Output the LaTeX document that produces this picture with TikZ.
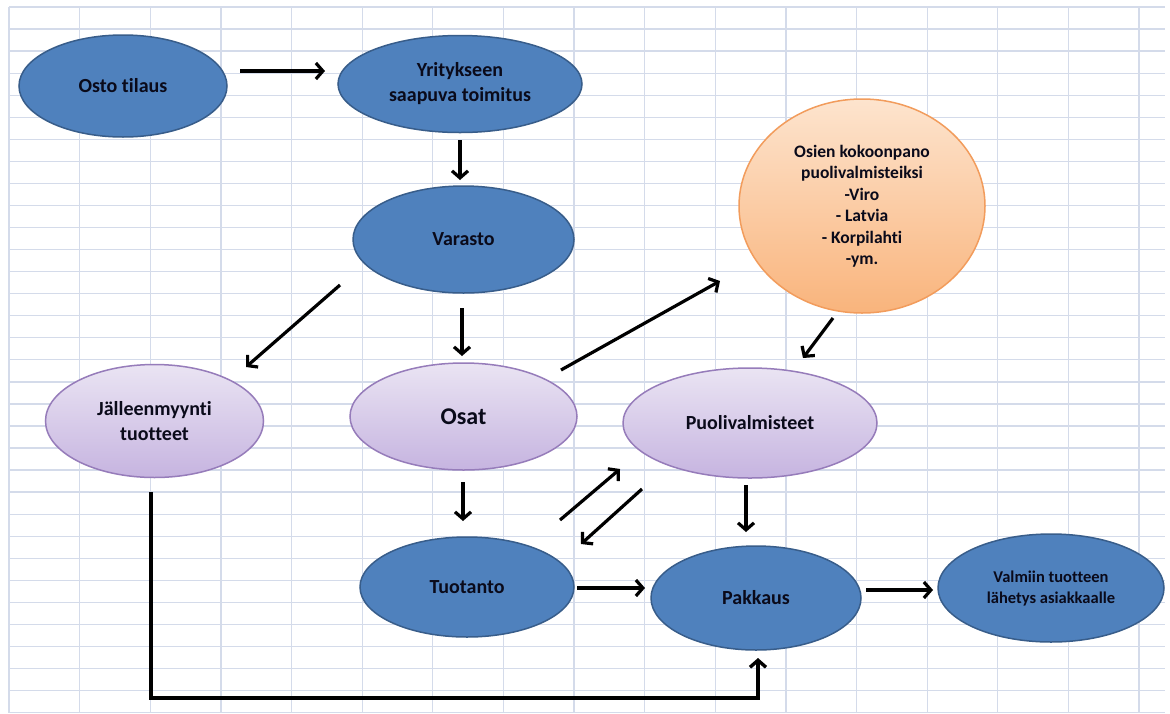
\documentclass[tikz,border=0pt]{standalone}
\usepackage{fontspec}
\setmainfont{Carlito}[Ligatures={NoCommon}]
\usetikzlibrary{shapes.geometric,arrows.meta,calc}

\definecolor{gridc}{RGB}{212,219,234}
\definecolor{bluefill}{RGB}{79,129,189}
\definecolor{blueline}{RGB}{56,93,138}
\definecolor{lavtop}{RGB}{234,228,243}
\definecolor{lavbot}{RGB}{198,180,224}
\definecolor{lavline}{RGB}{150,124,186}
\definecolor{peachtop}{RGB}{253,228,206}
\definecolor{peachbot}{RGB}{249,180,124}
\definecolor{peachline}{RGB}{242,156,92}
\definecolor{inkc}{RGB}{10,10,26}

\tikzset{
  sheetline/.style={draw=gridc, line width=1.3pt},
  oval/.style={ellipse, inner sep=0pt, line width=1.5pt, text=inkc, align=center,
    font=\bfseries\fontsize{20}{25}\selectfont},
  bluebox/.style={oval, fill=bluefill, draw=blueline},
  lavbox/.style={oval, draw=lavline, top color=lavtop, bottom color=lavbot},
  peachbox/.style={oval, draw=peachline, top color=peachtop, bottom color=peachbot},
  arr/.style={draw=black, line width=3.2pt, -{Straight Barb[length=7pt,width=16pt]}},
}

\begin{document}
\begin{tikzpicture}[x=1pt,y=-1pt]
\useasboundingbox (0,0) rectangle (1170,713);
\fill[white] (0,0) rectangle (1170,713);

% spreadsheet grid
\foreach \i in {0,...,16}
  \draw[sheetline] ({9+70.63*\i},7) -- ({9+70.63*\i},713);
\foreach \j in {0,...,32}
  \draw[sheetline] (9,{7+22.05*\j}) -- (1165,{7+22.05*\j});

% process steps
\node[bluebox, minimum width=208pt, minimum height=102pt] (osto) at (123,86) {Osto tilaus};
\node[bluebox, minimum width=244pt, minimum height=97pt] (yrit) at (460,84) {Yritykseen\\saapuva toimitus};
\node[bluebox, minimum width=221pt, minimum height=107pt] (varasto) at (463.5,239.5) {Varasto};
\node[peachbox, minimum width=246pt, minimum height=214pt,
  font=\bfseries\fontsize{17.5}{21.5}\selectfont] (osien) at (862,206)
  {Osien kokoonpano\\puolivalmisteiksi\\-Viro\\- Latvia\\- Korpilahti\\-ym.};
\node[lavbox, minimum width=218pt, minimum height=113pt] (jal) at (154.5,421) {Jälleenmyynti\\tuotteet};
\node[lavbox, minimum width=227pt, minimum height=107pt,
  font=\bfseries\fontsize{24}{28}\selectfont] (osat) at (463.5,416.5) {Osat};
\node[lavbox, minimum width=254pt, minimum height=110pt] (puoli) at (750,423) {Puolivalmisteet};
\node[bluebox, minimum width=214pt, minimum height=100pt] (tuot) at (467,587) {Tuotanto};
\node[bluebox, minimum width=210pt, minimum height=104pt] (pakk) at (756,598) {Pakkaus};
\node[bluebox, minimum width=226pt, minimum height=108pt,
  font=\bfseries\fontsize{16.5}{21}\selectfont] (valm) at (1051,588)
  {Valmiin tuotteen\\lähetys asiakkaalle};

% flows
\draw[arr] ($(osto)+(117,-15)$) -- ($(yrit)+(-135,-13)$);
\draw[arr] ($(yrit)+(0,56)$) -- ($(varasto)+(-3.5,-59.5)$);
\draw[arr] ($(varasto)+(-123.5,45.5)$) -- ($(jal)+(91.5,-54)$);
\draw[arr] ($(varasto)+(-1.5,68.5)$) -- ($(osat)+(-1.5,-60.5)$);
\draw[arr] ($(osat)+(97.5,-46.5)$) -- ($(osien)+(-142,75)$);
\draw[arr] ($(osien)+(-29,112)$) -- ($(puoli)+(53,-65)$);
\draw[arr] ($(osat)+(-0.5,65.5)$) -- ($(tuot)+(-4,-66)$);
\draw[arr] ($(tuot)+(93,-67)$) -- ($(puoli)+(-130,46)$);
\draw[arr] ($(puoli)+(-108,66)$) -- ($(tuot)+(114,-43)$);
\draw[arr] ($(puoli)+(-4,62)$) -- ($(pakk)+(-10,-66)$);
\draw[arr] ($(tuot)+(110,1)$) -- ($(pakk)+(-111,-10)$);
\draw[arr] ($(pakk)+(110,-8)$) -- ($(valm)+(-118,2)$);
\draw[arr, line width=3.4pt] ($(jal)+(-3.5,71)$) -- ($(jal)+(-3.5,277)$) -| ($(pakk)+(2,60)$);
\end{tikzpicture}
\end{document}
